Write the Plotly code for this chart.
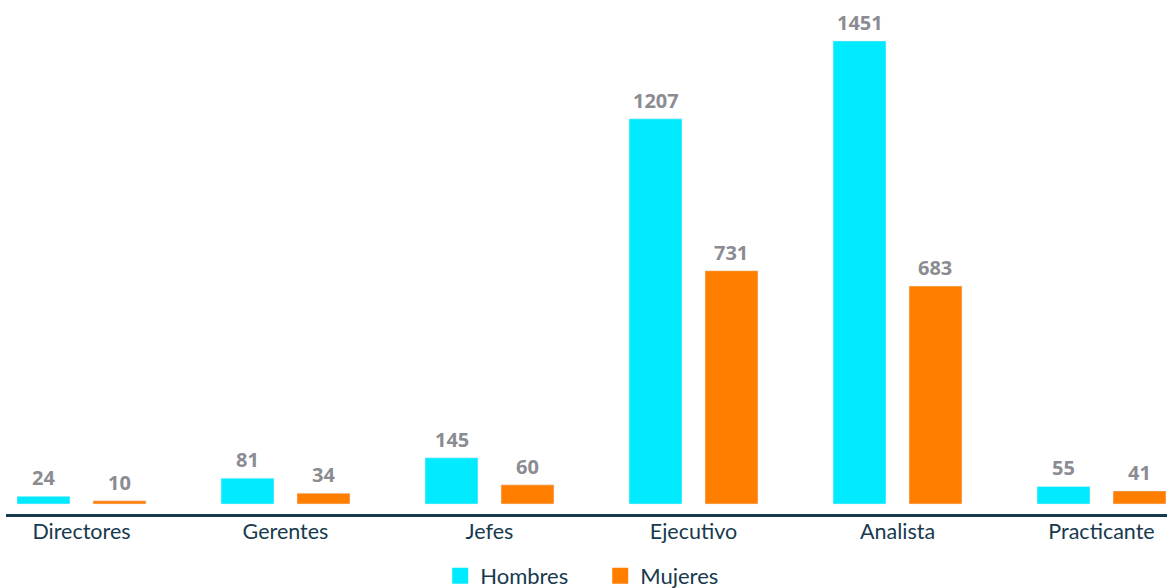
import plotly.graph_objects as go

categories = ["Directores", "Gerentes", "Jefes", "Ejecutivo", "Analista", "Practicante"]
hombres = [24, 81, 145, 1207, 1451, 55]
mujeres = [10, 34, 60, 731, 683, 41]

c_h = "#00EBFF"
c_m = "#FF7E00"
label_color = "#8A8C92"
axis_color = "#173A4E"

fig = go.Figure()
fig.add_trace(go.Bar(x=categories, y=hombres, marker_color=c_h, name="Hombres", showlegend=False))
fig.add_trace(go.Bar(x=categories, y=mujeres, marker_color=c_m, name="Mujeres", showlegend=False))

# legend entries as square markers
fig.add_trace(go.Scatter(x=[None], y=[None], mode="markers", name="Hombres",
                         marker=dict(symbol="square", size=16, color=c_h)))
fig.add_trace(go.Scatter(x=[None], y=[None], mode="markers", name="Mujeres",
                         marker=dict(symbol="square", size=16, color=c_m)))

# value labels above each bar
for i, cat in enumerate(categories):
    for val, off in ((hombres[i], -0.186), (mujeres[i], 0.186)):
        fig.add_annotation(x=i + off, y=val, text=f"<b>{val}</b>", showarrow=False,
                           xref="x", yref="y", yanchor="bottom", yshift=3,
                           font=dict(family="Open Sans", size=20, color=label_color))

fig.update_layout(
    width=1167, height=588,
    margin=dict(l=6, r=0, t=0, b=74, autoexpand=False),
    plot_bgcolor="white", paper_bgcolor="white",
    barmode="group", bargap=0.255, bargroupgap=0.303,
    showlegend=True,
    legend=dict(orientation="h", x=0.374, xanchor="left", y=-0.1206, yanchor="middle",
                font=dict(family="Lato", size=22, color=axis_color),
                entrywidth=115, entrywidthmode="pixels", itemclick=False),
    xaxis=dict(range=[-0.37, 5.321], showline=True, linecolor=axis_color, linewidth=3,
               tickfont=dict(family="Lato", size=21.5, color=axis_color), ticks="",
               showgrid=False, automargin=False, ticklabelstandoff=-4),
    yaxis=dict(range=[-31.3, 1579.4], visible=False, showgrid=False, zeroline=False,
               automargin=False),
)

fig.write_html("out.html")
